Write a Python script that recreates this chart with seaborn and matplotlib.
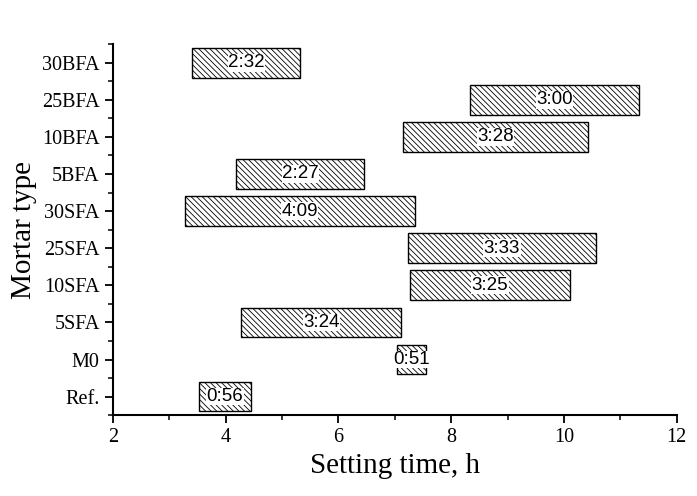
import matplotlib
matplotlib.use("Agg")
import matplotlib.pyplot as plt
import seaborn as sns
import numpy as np
from matplotlib.ticker import MultipleLocator

categories = ["Ref.", "M0", "5SFA", "10SFA", "25SFA", "30SFA", "5BFA", "10BFA", "25BFA", "30BFA"]
start_h = [3.52, 7.04, 4.28, 7.27, 7.24, 3.28, 4.19, 7.15, 8.33, 3.41]
end_h = [4.45, 7.55, 7.11, 10.11, 10.56, 7.35, 6.46, 10.43, 11.33, 5.32]
labels = ["0:56", "0:51", "3:24", "3:25", "3:33", "4:09", "2:27", "3:28", "3:00", "2:32"]
x_ticks = [2, 4, 6, 8, 10, 12]

sns.set_theme(style="ticks")
plt.rcParams["hatch.linewidth"] = 0.6
plt.rcParams["hatch.color"] = "#222222"

fig = plt.figure(figsize=(6.97, 4.96), dpi=100)
ax = fig.add_axes([0.162, 0.163, 0.809, 0.748])

ypos = np.arange(len(categories))
widths = [e - s for s, e in zip(start_h, end_h)]
ax.barh(ypos, widths, left=start_h, height=0.8, facecolor="white",
        edgecolor="black", linewidth=1.0, hatch="\\" * 6, zorder=2)

for y, s, e, lab in zip(ypos, start_h, end_h, labels):
    ax.text((s + e) / 2, y, lab, ha="center", va="center", fontsize=13.5,
            family="Liberation Sans", color="black", zorder=3,
            bbox=dict(facecolor="white", edgecolor="none", pad=0.3))

ax.set_xlim(2, 12)
ax.set_ylim(-0.5, 9.5)
ax.set_xticks(x_ticks)
ax.xaxis.set_minor_locator(MultipleLocator(1))
ax.set_yticks(ypos)
ax.set_yticklabels(categories)
ax.yaxis.set_minor_locator(MultipleLocator(0.5))

for sp in ["top", "right"]:
    ax.spines[sp].set_visible(False)
for sp in ["left", "bottom"]:
    ax.spines[sp].set_linewidth(1.5)
    ax.spines[sp].set_color("black")

ax.tick_params(which="major", length=6, width=1.3, color="black", direction="out")
ax.tick_params(which="minor", length=3.5, width=1.1, color="black", direction="out")
for t in ax.get_xticklabels() + ax.get_yticklabels():
    t.set_family("Liberation Serif")
    t.set_fontsize(14.5)
    t.set_color("black")

ax.set_xlabel("Setting time, h", family="Liberation Serif", fontsize=21, color="black", labelpad=4)
ax.set_ylabel("Mortar type", family="Liberation Serif", fontsize=21, color="black", labelpad=4)

fig.savefig("out.png", dpi=100, facecolor="white")
